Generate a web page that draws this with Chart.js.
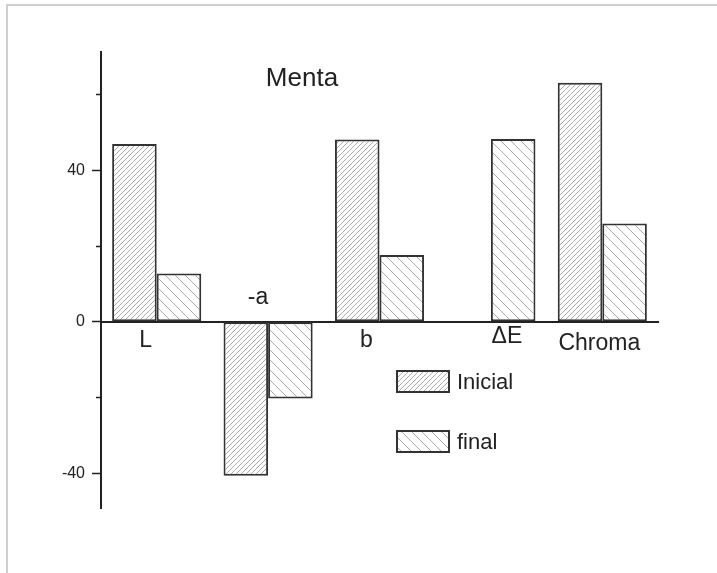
<!DOCTYPE html>
<html>
<head>
<meta charset="utf-8">
<script src="https://cdn.jsdelivr.net/npm/chart.js@4/dist/chart.umd.min.js"></script>
<style>
  html, body { margin: 0; padding: 0; background: #fff; }
  canvas { display: block; }
</style>
</head>
<body>
<canvas id="chart" width="717" height="573"></canvas>
<script>
// ---- data ----
const categories = ['L', '-a', 'b', 'ΔE', 'Chroma'];
const inicialValues = [46.9, -40.7, 48.1, null, 63.1];
const finalValues = [12.7, -20.3, 17.6, 48.2, 25.9];
const seriesNames = ['Inicial', 'final'];
const titleText = 'Menta';
const yMin = -49.2;
const yMax = 71.2;
const yTickStep = 20;   // every tick mark
const yLabelStep = 40;  // labelled (major) ticks

// ---- layout / style constants ----
const FONT = '"Liberation Sans", Arial, Helvetica, sans-serif';
const INK = '#222';
const EDGE = '#333';
// label offsets (px) from each category centre on the zero line
const labelOffsets = [[-11, 19], [-10, -24], [-13, 19], [16, 15], [-3, 22]];

function hatch(spacing, forward, color) {
  const c = document.createElement('canvas');
  c.width = c.height = spacing;
  const g = c.getContext('2d');
  g.fillStyle = '#fff';
  g.fillRect(0, 0, spacing, spacing);
  g.strokeStyle = color;
  g.lineWidth = 1;
  g.beginPath();
  if (forward) {
    g.moveTo(-1, spacing + 1); g.lineTo(spacing + 1, -1);
    g.moveTo(-1, 1); g.lineTo(1, -1);
    g.moveTo(spacing - 1, spacing + 1); g.lineTo(spacing + 1, spacing - 1);
  } else {
    g.moveTo(-1, -1); g.lineTo(spacing + 1, spacing + 1);
    g.moveTo(spacing - 1, -1); g.lineTo(spacing + 1, 1);
    g.moveTo(-1, spacing - 1); g.lineTo(1, spacing + 1);
  }
  g.stroke();
  return g.createPattern(c, 'repeat');
}

const ctx = document.getElementById('chart').getContext('2d');
const fillInicial = hatch(5, true, '#ababab');
const fillFinal = hatch(10, false, '#a8a8a8');

const decor = {
  id: 'decor',
  beforeDraw(chart) {
    const { ctx, width, height } = chart;
    ctx.save();
    ctx.fillStyle = '#fff';
    ctx.fillRect(0, 0, width, height);
    ctx.strokeStyle = '#cfcfcf';
    ctx.lineWidth = 2;
    ctx.beginPath();
    ctx.moveTo(7, height);
    ctx.lineTo(7, 5);
    ctx.lineTo(width, 5);
    ctx.stroke();
    ctx.restore();
  },
  afterDraw(chart) {
    const { ctx, scales: { x, y } } = chart;
    ctx.save();
    // short minor ticks between the labelled ones
    ctx.strokeStyle = INK;
    ctx.lineWidth = 1.5;
    y.ticks.forEach(t => {
      if (t.value % yLabelStep !== 0) {
        const py = Math.round(y.getPixelForValue(t.value)) + 0.5;
        ctx.beginPath();
        ctx.moveTo(chart.chartArea.left - 5, py);
        ctx.lineTo(chart.chartArea.left, py);
        ctx.stroke();
      }
    });
    // category names
    ctx.fillStyle = INK;
    ctx.textAlign = 'center';
    ctx.textBaseline = 'middle';
    ctx.font = '23px ' + FONT;
    const y0 = y.getPixelForValue(0);
    categories.forEach((name, i) => {
      const [dx, dy] = labelOffsets[i];
      ctx.fillText(name, x.getPixelForValue(i) + dx, y0 + dy);
    });
    // title
    ctx.font = '26px ' + FONT;
    ctx.fillText(titleText, 302, 79);
    // legend
    ctx.font = '22px ' + FONT;
    ctx.textAlign = 'left';
    chart.data.datasets.forEach((ds, i) => {
      const bx = 397, by = 371 + i * 60, bw = 52, bh = 21;
      ctx.fillStyle = ds.backgroundColor;
      ctx.fillRect(bx, by, bw, bh);
      ctx.strokeStyle = EDGE;
      ctx.lineWidth = 2;
      ctx.strokeRect(bx, by, bw, bh);
      ctx.fillStyle = INK;
      ctx.fillText(ds.label, bx + 60, by + bh / 2 + 1);
    });
    ctx.restore();
  }
};

new Chart(ctx, {
  type: 'bar',
  data: {
    labels: categories,
    datasets: [
      { label: seriesNames[0], data: inicialValues, backgroundColor: fillInicial,
        borderColor: EDGE, borderWidth: 2, borderSkipped: false },
      { label: seriesNames[1], data: finalValues, backgroundColor: fillFinal,
        borderColor: EDGE, borderWidth: 2, borderSkipped: false }
    ]
  },
  options: {
    responsive: false,
    animation: false,
    devicePixelRatio: 1,
    layout: { padding: { left: 0, top: 52, right: 59, bottom: 65 } },
    datasets: { bar: { categoryPercentage: 0.8, barPercentage: 1.0 } },
    plugins: { legend: { display: false }, tooltip: { enabled: false }, title: { display: false } },
    scales: {
      x: {
        position: { y: 0 },
        offset: true,
        grid: { display: false },
        ticks: { display: false },
        border: { display: true, color: INK, width: 2 }
      },
      y: {
        position: 'left',
        min: yMin,
        max: yMax,
        afterFit(scale) { scale.width = 101; },
        grid: {
          drawOnChartArea: false,
          drawTicks: true,
          tickLength: 9,
          tickWidth: 1.5,
          tickColor: c => (c.tick && c.tick.value % yLabelStep === 0) ? INK : 'rgba(0,0,0,0)'
        },
        border: { display: true, color: INK, width: 2 },
        ticks: {
          stepSize: yTickStep,
          includeBounds: false,
          padding: 7,
          color: INK,
          font: { size: 16, family: FONT },
          callback: v => (v % yLabelStep === 0 ? String(v) : '')
        }
      }
    }
  },
  plugins: [decor]
});
</script>
</body>
</html>
